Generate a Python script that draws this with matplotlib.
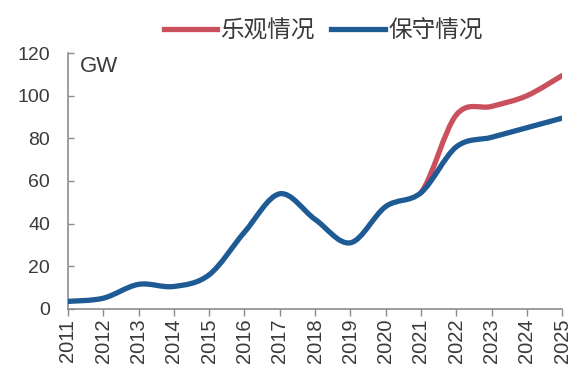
import matplotlib
matplotlib.use("Agg")
import matplotlib.pyplot as plt
import numpy as np
from matplotlib.path import Path
from matplotlib.patches import PathPatch
from matplotlib.lines import Line2D

plt.rcParams['font.family'] = ['Liberation Sans', 'Noto Sans CJK SC', 'DejaVu Sans']

years = list(range(2011, 2026))
history = [3.5, 5, 11.5, 10.5, 16, 36, 54, 42, 31, 48, 54.5]
optimistic = [54.5, 91, 95, 100, 109.5]
conservative = [54.5, 76, 80.5, 85, 89.5]

red = '#C9505C'
blue = '#1E5A94'
axis_gray = '#8C8C8C'
text_gray = '#3A3A3A'


def smooth_path(xs, ys, start=0):
    # Catmull-Rom style bezier through every point, like a spreadsheet "smoothed line"
    xs = np.asarray(xs, float)
    ys = np.asarray(ys, float)
    verts = [(xs[start], ys[start])]
    codes = [Path.MOVETO]
    n = len(xs)
    for i in range(start, n - 1):
        p0 = (xs[max(i - 1, 0)], ys[max(i - 1, 0)])
        p1 = (xs[i], ys[i])
        p2 = (xs[i + 1], ys[i + 1])
        p3 = (xs[min(i + 2, n - 1)], ys[min(i + 2, n - 1)])
        c1 = (p1[0] + (p2[0] - p0[0]) / 6, p1[1] + (p2[1] - p0[1]) / 6)
        c2 = (p2[0] - (p3[0] - p1[0]) / 6, p2[1] - (p3[1] - p1[1]) / 6)
        verts += [c1, c2, p2]
        codes += [Path.CURVE4] * 3
    return Path(verts, codes)


fig = plt.figure(figsize=(5.76, 3.69), dpi=100)
ax = fig.add_axes([0.118, 0.163, 0.858, 0.693])

split = len(history) - 1
xs_all = years
red_y = history + optimistic[1:]
blue_y = history + conservative[1:]

# the optimistic case only branches off after the last historical year
ax.add_patch(PathPatch(smooth_path(xs_all, red_y, start=split), facecolor='none',
                       edgecolor=red, lw=3.8, capstyle='round', joinstyle='round', zorder=2))
ax.add_patch(PathPatch(smooth_path(xs_all, blue_y), facecolor='none',
                       edgecolor=blue, lw=3.8, capstyle='round', joinstyle='round', zorder=3))

ax.set_xlim(2011, 2025)
ax.set_ylim(0, 120)
ax.set_xticks(years)
ax.set_xticklabels([str(y) for y in years], rotation=90, fontsize=14.5, color=text_gray)
ax.set_yticks(range(0, 121, 20))
ax.tick_params(axis='y', direction='in', length=4, width=1, color=axis_gray,
               labelsize=14, labelcolor=text_gray, pad=13)
ax.tick_params(axis='x', direction='out', length=5, width=1, color=axis_gray, pad=2)

for s in ['top', 'right']:
    ax.spines[s].set_visible(False)
for s in ['left', 'bottom']:
    ax.spines[s].set_color(axis_gray)
    ax.spines[s].set_linewidth(1.2)

ax.text(0.025, 0.99, 'GW', transform=ax.transAxes, fontsize=16,
        color=text_gray, va='top', ha='left')

handles = [Line2D([], [], color=red, lw=3.8), Line2D([], [], color=blue, lw=3.8)]
fig.legend(handles, ['乐观情况', '保守情况'], loc='center', bbox_to_anchor=(0.561, 0.916),
           ncol=2, frameon=False, fontsize=17, handlelength=2.25, handletextpad=0.15,
           columnspacing=0.7, labelcolor=text_gray)

fig.savefig('out.png', dpi=100)
